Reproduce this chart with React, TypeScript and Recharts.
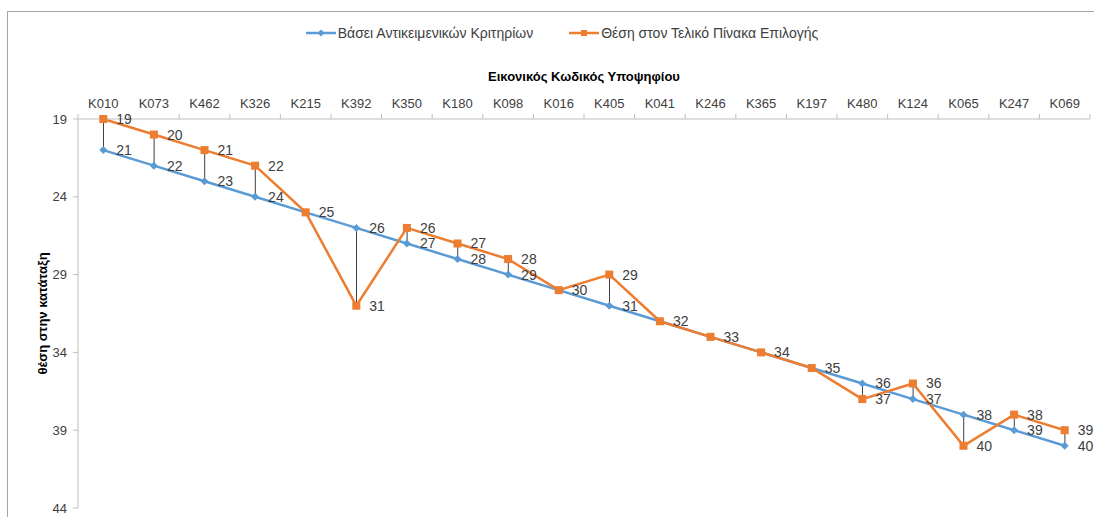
import React from "react";
import {
  ComposedChart, Line, Bar, XAxis, YAxis, Legend, LabelList
} from "recharts";

const codes = [
  "K010", "K073", "K462", "K326", "K215", "K392", "K350", "K180", "K098", "K016",
  "K405", "K041", "K246", "K365", "K197", "K480", "K124", "K065", "K247", "K069",
];
const objectiveRank = [21, 22, 23, 24, 25, 26, 27, 28, 29, 30, 31, 32, 33, 34, 35, 36, 37, 38, 39, 40];
const finalRank = [19, 20, 21, 22, 25, 31, 26, 27, 28, 30, 29, 32, 33, 34, 35, 37, 36, 40, 38, 39];
const yTicks = [19, 24, 29, 34, 39, 44];

const BLUE = "#5B9BD5";
const ORANGE = "#ED7D31";
const TEXT = "#404040";
const AXIS = "#bfbfbf";
const FONT = "'Liberation Sans', Arial, sans-serif";

const data = codes.map((code, i) => ({
  code,
  objective: objectiveRank[i],
  final: finalRank[i],
  // same spot as the blue label -> draw only once
  finalLabel: finalRank[i] === objectiveRank[i] ? null : finalRank[i],
  range: [Math.min(objectiveRank[i], finalRank[i]), Math.max(objectiveRank[i], finalRank[i])],
}));

const legendItems = [
  { label: "Βάσει Αντικειμενικών Κριτηρίων", color: BLUE, shape: "diamond" },
  { label: "Θέση στον Τελικό Πίνακα Επιλογής", color: ORANGE, shape: "square" },
];

function LegendContent() {
  return (
    <div style={{ display: "flex", justifyContent: "center", gap: 36, fontFamily: FONT, fontSize: 14, color: TEXT, paddingLeft: 30 }}>
      {legendItems.map((it) => (
        <div key={it.label} style={{ display: "flex", alignItems: "center" }}>
          <svg width={30} height={10} style={{ marginRight: 2 }}>
            <line x1={0} y1={5} x2={30} y2={5} stroke={it.color} strokeWidth={2.5} />
            {it.shape === "square" ? (
              <rect x={12} y={2} width={6} height={6} fill={it.color} />
            ) : (
              <path d="M15,1.5 L18.5,5 L15,8.5 L11.5,5 Z" fill={it.color} />
            )}
          </svg>
          <span>{it.label}</span>
        </div>
      ))}
    </div>
  );
}

// category label plus tick marks on the band edges (Excel style)
const CodeTick = (props: any) => {
  const { x, y, payload, index } = props;
  const half = payload && payload.offset ? payload.offset : 25.3;
  const axisY = y + 7;
  return (
    <g>
      {index === 0 && <line x1={x - half} y1={axisY} x2={x - half} y2={axisY - 5} stroke={AXIS} />}
      <line x1={x + half} y1={axisY} x2={x + half} y2={axisY - 5} stroke={AXIS} />
      <text x={x} y={y - 4} textAnchor="middle" fill={TEXT} fontSize={13} fontFamily={FONT}>
        {payload.value}
      </text>
    </g>
  );
};

const Diamond = (props: any) => {
  const { cx, cy } = props;
  if (cx == null || cy == null) return null;
  return <path d={`M${cx},${cy - 4} L${cx + 4},${cy} L${cx},${cy + 4} L${cx - 4},${cy} Z`} fill={BLUE} />;
};

const Square = (props: any) => {
  const { cx, cy } = props;
  if (cx == null || cy == null) return null;
  return <rect x={cx - 4} y={cy - 4} width={8} height={8} fill={ORANGE} />;
};

export default function App() {
  return (
    <div style={{ position: "absolute", left: 0, top: 0, width: 1094, height: 517, background: "#fff" }}>
      <div style={{ position: "absolute", left: 7, top: 11, right: 0, bottom: -2, borderTop: "1px solid #a6a6a6", borderLeft: "1px solid #a6a6a6" }} />
      <ComposedChart
        width={1094}
        height={517}
        data={data}
        margin={{ top: 45, right: 4, bottom: 9, left: 20 }}
        style={{ position: "absolute", left: 0, top: 0 }}
      >
        <Legend verticalAlign="top" content={<LegendContent />} wrapperStyle={{ top: 25, left: 0, width: 1094 }} />
        <XAxis
          dataKey="code"
          orientation="top"
          height={58}
          axisLine={{ stroke: AXIS }}
          tickLine={false}
          tickSize={0}
          tickMargin={7}
          tick={<CodeTick />}
          interval={0}
          label={({ viewBox }: any) => (
            <text
              x={viewBox.x + viewBox.width / 2}
              y={viewBox.y + 20}
              textAnchor="middle"
              fontFamily={FONT}
              fontSize={13}
              fontWeight="bold"
              fill="#000"
            >
              Εικονικός Κωδικός Υποψηφίου
            </text>
          )}
        />
        <YAxis
          reversed
          domain={[19, 44]}
          ticks={yTicks}
          width={58}
          interval={0}
          axisLine={{ stroke: AXIS }}
          tickLine={{ stroke: AXIS }}
          tickSize={5}
          tickMargin={6}
          tick={{ fill: TEXT, fontSize: 13, fontFamily: FONT }}
          label={({ viewBox }: any) => {
            const x = 42;
            const y = viewBox.y + viewBox.height / 2;
            return (
              <text
                x={x}
                y={y}
                transform={`rotate(-90 ${x} ${y})`}
                textAnchor="middle"
                dominantBaseline="central"
                fontFamily={FONT}
                fontSize={13}
                fontWeight="bold"
                fill="#000"
              >
                θέση στην κατάταξη
              </text>
            );
          }}
        />
        <Bar dataKey="range" barSize={1} fill="#404040" isAnimationActive={false} legendType="none" />
        <Line
          dataKey="objective"
          stroke={BLUE}
          strokeWidth={2.5}
          dot={<Diamond />}
          activeDot={false}
          isAnimationActive={false}
        >
          <LabelList dataKey="objective" position="right" offset={13} fill={TEXT} fontSize={14} fontFamily={FONT} />
        </Line>
        <Line
          dataKey="final"
          stroke={ORANGE}
          strokeWidth={2.5}
          dot={<Square />}
          activeDot={false}
          isAnimationActive={false}
        >
          <LabelList dataKey="finalLabel" position="right" offset={13} fill={TEXT} fontSize={14} fontFamily={FONT} />
        </Line>
      </ComposedChart>
    </div>
  );
}
